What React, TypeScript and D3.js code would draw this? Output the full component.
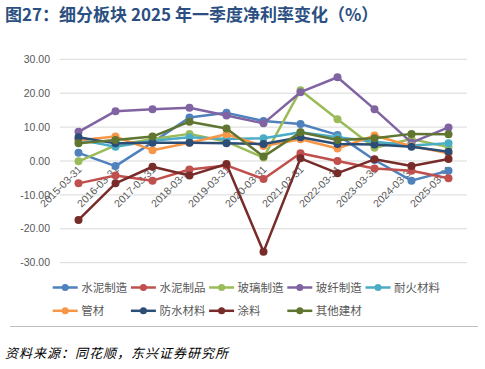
import { useEffect, useRef } from 'react';
import * as d3 from 'd3';

const categories = [
  '2015-03-31', '2016-03-31', '2017-03-31', '2018-03-31', '2019-03-31', '2020-03-31',
  '2021-03-31', '2022-03-31', '2023-03-31', '2024-03-31', '2025-03-31',
];

const yTicks = [30, 20, 10, 0, -10, -20, -30];

const seriesNames = ['水泥制造', '水泥制品', '玻璃制造', '玻纤制造', '耐火材料', '管材', '防水材料', '涂料', '其他建材'];
const seriesColors = ['#4F81BD', '#C0504D', '#9BBB59', '#8064A2', '#4BACC6', '#F79646', '#2C4D75', '#772C2A', '#5F7530'];

const cementMfg = [2.4, -1.5, 5.5, 12.8, 14.2, 11.8, 10.9, 7.7, 0.3, -5.8, -2.9];
const cementProducts = [-6.6, -4.3, -5.8, -2.5, -1.3, -5.3, 2.3, 0.0, -2.2, -2.9, -5.1];
const glassMfg = [-0.1, 4.6, 6.5, 8.0, 5.7, 1.0, 20.9, 12.3, 3.9, 6.5, 4.1];
const glassFiber = [8.6, 14.7, 15.3, 15.7, 13.4, 11.1, 20.3, 24.7, 15.3, 5.4, 9.9];
const refractory = [6.3, 4.2, 6.0, 7.0, 6.5, 6.7, 8.5, 7.0, 5.7, 4.6, 5.2];
const pipes = [6.1, 7.2, 3.2, 5.4, 7.9, 4.4, 6.4, 3.7, 7.5, 4.4, 2.3];
const waterproof = [7.0, 5.2, 5.4, 5.4, 5.2, 5.0, 7.0, 5.0, 4.9, 4.2, 2.7];
const coatings = [-17.4, -6.6, -1.7, -4.3, -0.9, -26.8, 0.8, -3.6, 0.5, -1.5, 0.6];
const otherMaterials = [5.2, 6.2, 7.2, 11.6, 9.6, 1.3, 8.5, 6.2, 6.7, 8.0, 7.9];

const seriesValues = [cementMfg, cementProducts, glassMfg, glassFiber, refractory, pipes, waterproof, coatings, otherMaterials];

export default function App() {
  const svgRef = useRef<SVGSVGElement>(null);

  useEffect(() => {
    if (!svgRef.current) return;
    const svg = d3.select(svgRef.current);
    svg.selectAll('*').remove();

    const width = 485;
    const height = 369;
    const left = 60;
    const right = 467;

    svg.append('rect').attr('width', width).attr('height', height).attr('fill', '#fff');

    // title
    svg.append('text')
      .attr('x', 5)
      .attr('y', 21)
      .style('font-family', '"Noto Sans CJK SC", "Noto Sans", sans-serif')
      .style('font-size', '17px')
      .style('font-weight', '700')
      .style('fill', '#2B4F81')
      .text('图27：细分板块 2025 年一季度净利率变化（%）');

    const x = d3.scaleBand().domain(categories).range([left, right]);
    const y = d3.scaleLinear().domain([-30, 30]).range([262.7, 59.3]);

    // gridlines
    svg.append('g')
      .selectAll('line')
      .data(yTicks)
      .enter()
      .append('line')
      .attr('x1', left)
      .attr('x2', right)
      .attr('y1', d => y(d))
      .attr('y2', d => y(d))
      .attr('stroke', '#D9D9D9')
      .attr('stroke-width', 1);

    // y tick labels
    svg.append('g')
      .selectAll('text')
      .data(yTicks)
      .enter()
      .append('text')
      .attr('x', 50)
      .attr('y', d => y(d))
      .attr('dy', '0.35em')
      .attr('text-anchor', 'end')
      .style('font-family', '"Liberation Sans", Arial, sans-serif')
      .style('font-size', '10.5px')
      .style('fill', '#595959')
      .text(d => d.toFixed(2));

    // x labels, hanging under the zero line
    svg.append('g')
      .selectAll('text')
      .data(categories)
      .enter()
      .append('text')
      .attr('transform', d => `translate(${(x(d) ?? 0) + x.bandwidth() / 2 + 4},${y(0) + 9}) rotate(-45)`)
      .attr('text-anchor', 'end')
      .style('font-family', '"Liberation Sans", Arial, sans-serif')
      .style('font-size', '10.5px')
      .style('fill', '#595959')
      .text(d => d);

    const line = d3.line<number>()
      .x((_, i) => (x(categories[i]) ?? 0) + x.bandwidth() / 2)
      .y(d => y(d));

    seriesValues.forEach((vals, si) => {
      const g = svg.append('g');
      g.append('path')
        .attr('d', line(vals) ?? '')
        .attr('fill', 'none')
        .attr('stroke', seriesColors[si])
        .attr('stroke-width', 2.5)
        .attr('stroke-linejoin', 'round');
      g.selectAll('circle')
        .data(vals)
        .enter()
        .append('circle')
        .attr('cx', (_, i) => (x(categories[i]) ?? 0) + x.bandwidth() / 2)
        .attr('cy', d => y(d))
        .attr('r', 4)
        .attr('fill', seriesColors[si]);
    });

    // legend
    const legend = svg.append('g');
    seriesNames.forEach((name, i) => {
      const col = i % 5;
      const row = Math.floor(i / 5);
      const lx = 52.7 + col * 78.2;
      const ly = 287.5 + row * 23.3;
      const item = legend.append('g').attr('transform', `translate(${lx},${ly})`);
      item.append('line')
        .attr('x1', 0).attr('x2', 25)
        .attr('stroke', seriesColors[i])
        .attr('stroke-width', 2.5);
      item.append('circle').attr('cx', 12.5).attr('r', 3.5).attr('fill', seriesColors[i]);
      item.append('text')
        .attr('x', 28.5)
        .attr('dy', '0.35em')
        .style('font-family', '"Noto Sans CJK SC", sans-serif')
        .style('font-size', '11.5px')
        .style('fill', '#595959')
        .text(name);
    });

    // separator and source
    svg.append('line')
      .attr('x1', 10).attr('x2', 478)
      .attr('y1', 326.5).attr('y2', 326.5)
      .attr('stroke', '#BFBFBF')
      .attr('stroke-width', 1);

    svg.append('text')
      .attr('x', 5)
      .attr('y', 358)
      .style('font-family', '"Noto Sans CJK SC", sans-serif')
      .style('font-size', '13px')
      .style('font-style', 'italic')
      .style('fill', '#000')
      .attr('textLength', 223)
      .text('资料来源：同花顺，东兴证券研究所');
  }, []);

  return (
    <svg
      ref={svgRef}
      width={485}
      height={369}
      style={{ position: 'absolute', left: 0, top: 0, display: 'block' }}
    />
  );
}
